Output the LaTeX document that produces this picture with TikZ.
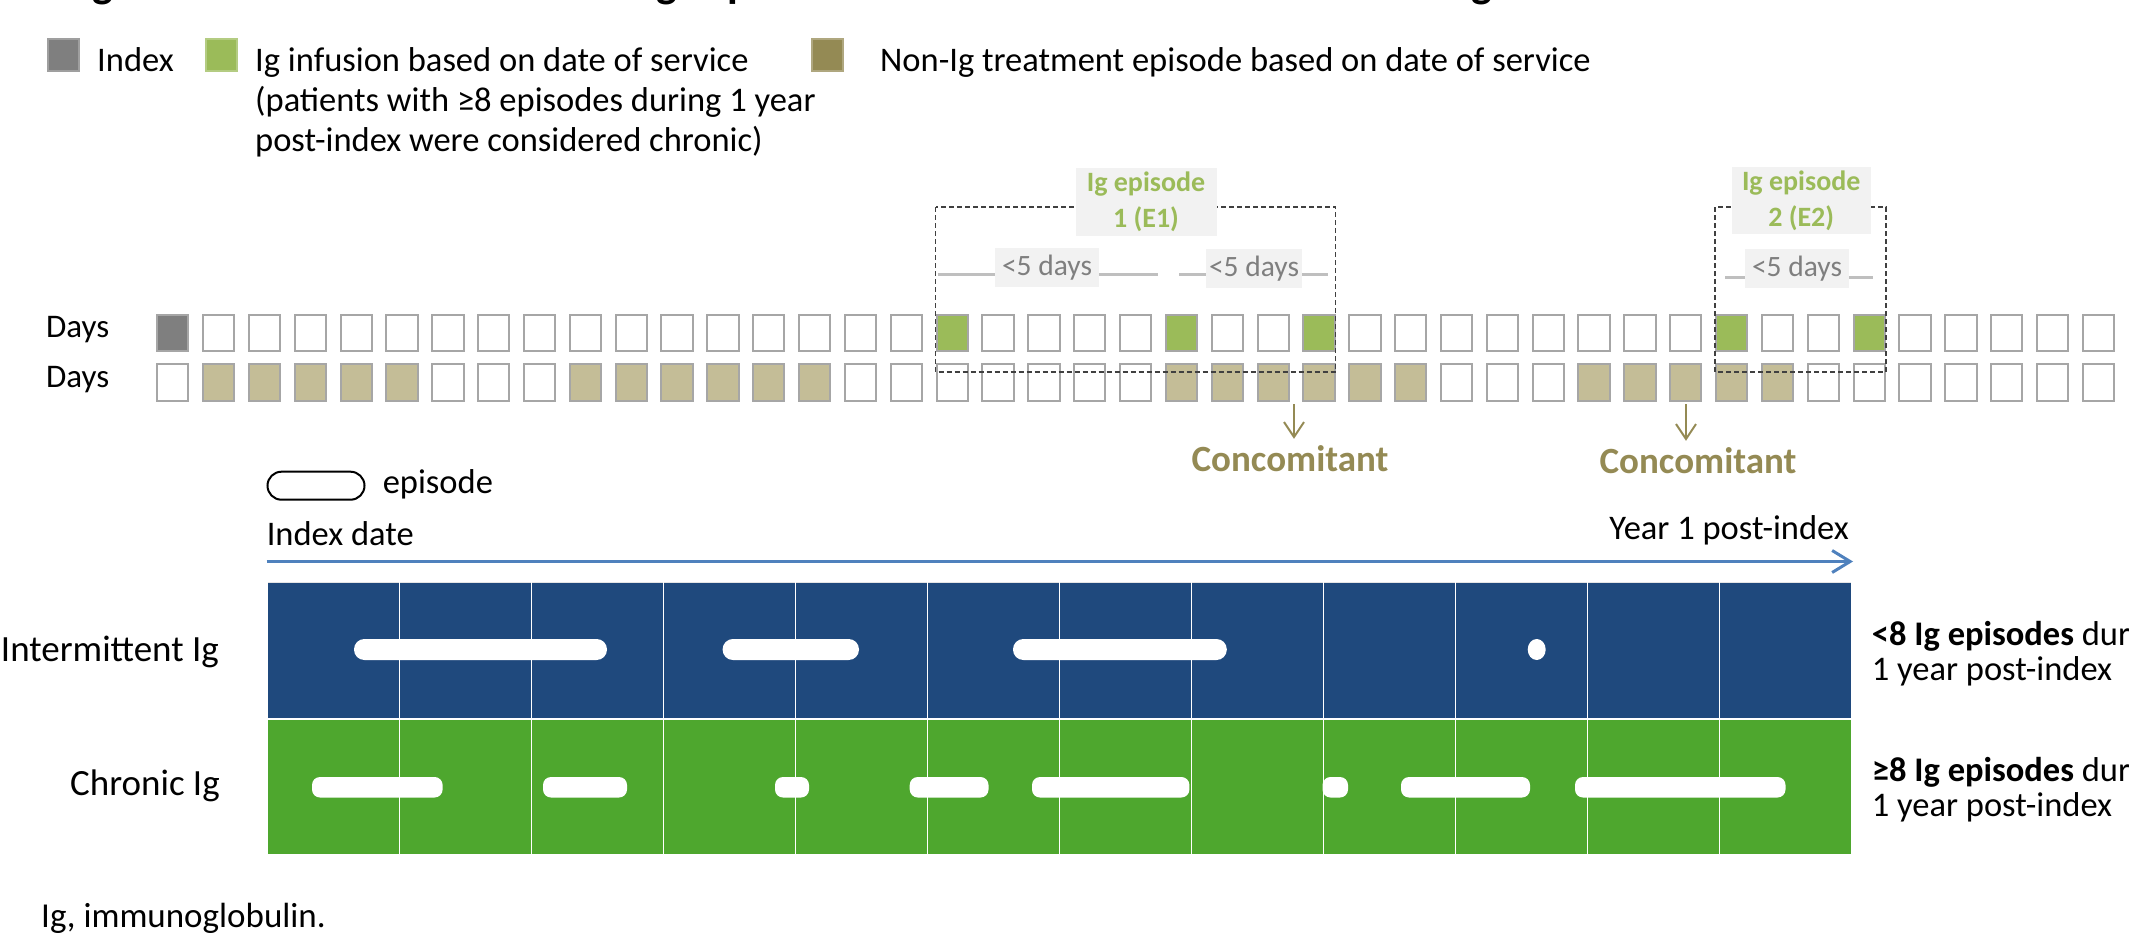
\documentclass[tikz,border=0pt]{standalone}
\usepackage{fontspec}
\setmainfont{Carlito}
\usetikzlibrary{arrows.meta}
\definecolor{idxgray}{HTML}{7F7F7F}
\definecolor{iggreen}{HTML}{9BBB59}
\definecolor{tanc}{HTML}{C4BD97}
\definecolor{olive}{HTML}{948A54}
\definecolor{sqborder}{HTML}{A6A6A6}
\definecolor{labelbg}{HTML}{F2F2F2}
\definecolor{daysgray}{HTML}{7F7F7F}
\definecolor{glines}{HTML}{BFBFBF}
\definecolor{dashc}{HTML}{404040}
\definecolor{arrowblue}{HTML}{4F81BD}
\definecolor{barblue}{HTML}{1F497D}
\definecolor{bargreen}{HTML}{4EA72E}
\begin{document}
\begin{tikzpicture}[x=1pt,y=-1pt,
  sq/.style={draw=sqborder, line width=2pt, minimum width=31.3pt, minimum height=36.3pt, inner sep=0pt},
  legsq/.style={line width=2pt, minimum width=31pt, minimum height=32pt, inner sep=0pt},
  txt/.style={inner sep=0pt, font=\fontsize{34.5}{41}\selectfont},
  rtxt/.style={inner sep=0pt, font=\fontsize{34.5}{40}\selectfont, anchor=base west},
  rowlab/.style={inner sep=0pt, font=\fontsize{37}{44}\selectfont, anchor=base east},
  dbox/.style={draw=dashc, line width=1.5pt, dash pattern=on 5pt off 3pt},
  gline/.style={draw=glines, line width=3pt},
  eplab/.style={fill=labelbg, text=iggreen, font=\fontsize{28}{35.7}\selectfont\bfseries, align=center, minimum width=141pt, minimum height=67.7pt, inner sep=0pt},
  dlab/.style={fill=labelbg, text=daysgray, font=\fontsize{29.5}{35}\selectfont, minimum height=38.5pt, inner sep=0pt},
  con/.style={text=olive, font=\fontsize{37}{44}\selectfont\bfseries, inner sep=0pt, anchor=base},
  conarr/.style={draw=olive, line width=2pt, -{Straight Barb[length=15pt,width=20pt]}, shorten >=6pt},
  timeline/.style={draw=arrowblue, line width=3pt, -{Straight Barb[length=18pt,width=22pt]}},
  epi/.style={fill=white, rounded corners=10.3pt},
  epic/.style={fill=white, rounded corners=8pt},
  ttl/.style={inner sep=0pt, font=\fontsize{44}{50}\selectfont\bfseries, anchor=base}
]
\useasboundingbox (0,0) rectangle (2129,934);
\clip (0,0) rectangle (2129,934);

% clipped title remnants
\node[ttl] (t1) at (103,-2.5) {g};
\node[ttl] (t2) at (667,-2.5) {g};
\node[ttl, anchor=base west] (t3) at (727,-2.5) {p};
\node[ttl] (t4) at (1482,-2.5) {g};

% legend
\node[legsq, fill=idxgray, draw=idxgray!75!white] (lg1) at (63.8,55) {};
\node[txt, anchor=base west] (lt1) at (97,71) {Index};
\node[legsq, fill=iggreen, draw=iggreen!75!white] (lg2) at (221,55) {};
\node[txt, anchor=base west] (lt2a) at (255,71) {Ig infusion based on date of service};
\node[txt, anchor=base west] (lt2b) at (255,111) {(patients with ≥8 episodes during 1 year};
\node[txt, anchor=base west] (lt2c) at (255,151) {post-index were considered chronic)};
\node[legsq, fill=olive, draw=olive!75!white] (lg3) at (827.5,55) {};
\node[txt, anchor=base west] (lt3) at (880,71) {Non-Ig treatment episode based on date of service};

% day rows
\node[txt, anchor=base west, font=\fontsize{33}{40}\selectfont] (days1) at (46,337.3) {Days};
\node[txt, anchor=base west, font=\fontsize{33}{40}\selectfont] (days2) at (46,387.3) {Days};
\foreach \i in {0,...,42}{
  \pgfmathsetmacro\xx{172.75+45.85*\i}
  \pgfmathtruncatemacro\ga{(\i==17)||(\i==22)||(\i==25)||(\i==34)||(\i==37)}
  \pgfmathtruncatemacro\tb{((\i>=1)&&(\i<=5))||((\i>=9)&&(\i<=14))||((\i>=22)&&(\i<=27))||((\i>=31)&&(\i<=35))}
  \ifnum\i=0 \def\fa{idxgray}\else\ifnum\ga=1 \def\fa{iggreen}\else\def\fa{white}\fi\fi
  \ifnum\tb=1 \def\fb{tanc}\else\def\fb{white}\fi
  \node[sq, fill=\fa] (a\i) at (\xx,333) {};
  \node[sq, fill=\fb] (b\i) at (\xx,382.5) {};
}

% episode boxes
\coordinate (et) at (0,207);
\coordinate (eb) at (0,372);
\draw[dbox] (a17.west |- et) rectangle (a25.east |- eb);
\draw[dbox] (a34.west |- et) rectangle (a37.east |- eb);

% <5 days spans
\coordinate (g1a) at (937.7,274.3);
\coordinate (g1b) at (1158,274.3);
\coordinate (g2a) at (1179,274.3);
\coordinate (g2b) at (1328,274.3);
\coordinate (g3a) at (1725,277.3);
\coordinate (g3b) at (1873,277.3);
\draw[gline] (g1a) -- (g1b);
\draw[gline] (g2a) -- (g2b);
\draw[gline] (g3a) -- (g3b);
\node[dlab, minimum width=104pt] (d1) at (1047,267.5) {<5 days};
\node[dlab, minimum width=96pt] (d2) at (1254,268.5) {<5 days};
\node[dlab, minimum width=104pt] (d3) at (1797,268.7) {<5 days};

\node[eplab] (e1) at (1146,201.8) {Ig episode\\1 (E1)};
\node[eplab, minimum width=139pt] (e2) at (1801.2,200.5) {Ig episode\\2 (E2)};

% concomitant
\node[con] (c1) at (1290,471) {Concomitant};
\node[con] (c2) at (1698,473) {Concomitant};
\coordinate (c1s) at (1294,404);
\coordinate (c2s) at (1686,404);
\draw[conarr] (c1s) -- (c1s |- c1.north);
\draw[conarr] (c2s) -- (c2s |- c2.north);

% lower legend and timeline
\node[draw=black, line width=2pt, fill=white, rounded corners=14pt, minimum width=97pt, minimum height=28pt, inner sep=0pt] (lp) at (316,485.7) {};
\node[txt, anchor=base west] (lpt) at (382.6,493) {episode};
\node[txt, anchor=base west] (idxd) at (266.6,545) {Index date};
\node[rtxt, anchor=base east] (yr1) at (1849,539) {Year 1 post-index};
\coordinate (ax0) at (266.6,561.5);
\coordinate (ax1) at (1853,561.5);
\draw[timeline] (ax0) -- (ax1);

% bars
\node[fill=barblue, minimum width=1583.5pt, minimum height=135.5pt, inner sep=0pt, anchor=north west] (intbar) at (267.5,582) {};
\node[fill=bargreen, minimum width=1583.5pt, minimum height=134.5pt, inner sep=0pt, anchor=north west] (chrbar) at (267.5,719.5) {};
\draw[white!80!gray, line width=1pt] (intbar.north west) -- (intbar.north east);
\foreach \k in {1,...,11}{
  \draw[white, line width=1pt] ({267.5+132*\k},582) -- ({267.5+132*\k},854);
}

% intermittent episodes
\fill[epi] (354,639) rectangle (607,660);
\fill[epi] (722.6,639) rectangle (859,660);
\fill[epi] (1013,639) rectangle (1226.8,660);
\fill[white] (1536.7,649.5) ellipse [x radius=9, y radius=10.5];

% chronic episodes
\fill[epic] (312,777) rectangle (442.6,797.5);
\fill[epic] (543,777) rectangle (627,797.5);
\fill[epic] (775,777) rectangle (809,797.5);
\fill[epic] (909.7,777) rectangle (988.5,797.5);
\fill[epic] (1032,777) rectangle (1189.4,797.5);
\fill[epic] (1322.5,777) rectangle (1348,797.5);
\fill[epic] (1401,777) rectangle (1530,797.5);
\fill[epic] (1575,777) rectangle (1785.5,797.5);

% row labels
\node[rowlab] (rl1) at (219,661) {Intermittent Ig};
\node[rowlab] (rl2) at (220,795) {Chronic Ig};

% right descriptions
\node[rtxt] (r1a) at (1871.7,645) {\textbf{<8 Ig episodes} during};
\node[rtxt] (r1b) at (1871.7,680) {1 year post-index};
\node[rtxt] (r2a) at (1871.7,781.7) {\textbf{≥8 Ig episodes} during};
\node[rtxt] (r2b) at (1871.7,816.7) {1 year post-index};

% footnote
\node[txt, anchor=base west, font=\fontsize{35}{42}\selectfont] (fn) at (41,927) {Ig, immunoglobulin.};
\end{tikzpicture}
\end{document}
